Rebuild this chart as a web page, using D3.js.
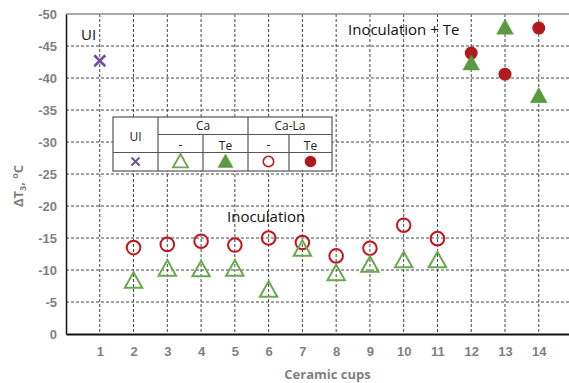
<!DOCTYPE html>
<html>
<head>
<meta charset="utf-8">
<script src="https://cdn.jsdelivr.net/npm/d3@7"></script>
<style>
  html, body { margin: 0; padding: 0; background: #fff; }
  svg { display: block; font-family: "Open Sans", "Liberation Sans", sans-serif; }
</style>
</head>
<body>
<svg id="chart" width="569" height="383"></svg>
<script>
// Cooling-curve undercooling ΔT3 per ceramic cup
const cups = [1, 2, 3, 4, 5, 6, 7, 8, 9, 10, 11, 12, 13, 14];
const yTicks = [0, -5, -10, -15, -20, -25, -30, -35, -40, -45, -50];

// Uninoculated iron
const uiCups = [1];
const uiValues = [-42.7];

// Ca inoculant, without / with Te
const caCups = [2, 3, 4, 5, 6, 7, 8, 9, 10, 11];
const caValues = [-8.2, -10.1, -10.0, -10.1, -6.8, -13.2, -9.4, -10.7, -11.4, -11.4];
const caTeCups = [12, 13, 14];
const caTeValues = [-42.2, -47.8, -37.1];

// Ca-La inoculant, without / with Te
const caLaCups = [2, 3, 4, 5, 6, 7, 8, 9, 10, 11];
const caLaValues = [-13.5, -14.0, -14.5, -13.9, -15.0, -14.3, -12.2, -13.4, -17.0, -14.9];
const caLaTeCups = [12, 13, 14];
const caLaTeValues = [-43.9, -40.6, -47.8];

const C = {
  purple: "#7050a0",
  green: "#6aa84f",
  greenFill: "#5b9a3e",
  red: "#c0161c",
  redFill: "#b01a1e",
  tick: "#7f7f7f"
};

const svg = d3.select("#chart");
const plotLeft = 66, plotTop = 14, plotBottom = 334, plotRight = 569;

const x = d3.scaleLinear().domain([0, 15]).range([plotLeft, plotLeft + 15 * 33.77]);
const y = d3.scaleLinear().domain([0, -50]).range([plotBottom, plotTop]);

// grid
const grid = svg.append("g");
grid.selectAll("line.h").data(yTicks.filter(v => v !== 0 && v !== -50)).join("line")
  .attr("x1", plotLeft).attr("x2", plotRight)
  .attr("y1", d => y(d)).attr("y2", d => y(d))
  .attr("stroke", "#444").attr("stroke-width", 1).attr("stroke-dasharray", "3,2");
grid.selectAll("line.v").data(cups).join("line")
  .attr("x1", d => x(d)).attr("x2", d => x(d))
  .attr("y1", plotTop).attr("y2", plotBottom)
  .attr("stroke", "#444").attr("stroke-width", 1).attr("stroke-dasharray", "3,2");

// top frame line
svg.append("line").attr("x1", plotLeft).attr("x2", plotRight).attr("y1", y(-50)).attr("y2", y(-50))
  .attr("stroke", "#8c8c8c").attr("stroke-width", 1.5);

// y axis
const yAxis = d3.axisLeft(y).tickValues(yTicks).tickSize(0).tickPadding(9).tickFormat(d => d);
const yg = svg.append("g").attr("transform", `translate(${plotLeft},0)`).call(yAxis);
yg.select(".domain").attr("stroke", "#111").attr("stroke-width", 1.5);
yg.selectAll(".tick text").attr("fill", C.tick).attr("font-size", 13).attr("font-weight", "bold");

// x axis
const xAxis = d3.axisBottom(x).tickValues(cups).tickSize(0).tickPadding(13).tickFormat(d => d);
const xg = svg.append("g").attr("transform", `translate(0,${plotBottom})`).call(xAxis);
xg.select(".domain").attr("stroke", "#111").attr("stroke-width", 2);
xg.selectAll(".tick text").attr("fill", C.tick).attr("font-size", 13).attr("font-weight", "bold");

// axis titles
svg.append("text").attr("x", (plotLeft + plotRight) / 2 + 10).attr("y", 379)
  .attr("text-anchor", "middle").attr("fill", C.tick).attr("font-size", 13).attr("font-weight", "bold")
  .text("Ceramic cups");

const yt = svg.append("text").attr("transform", "translate(23,186) rotate(-90)")
  .attr("text-anchor", "middle").attr("fill", C.tick).attr("font-size", 13).attr("font-weight", "bold");
yt.append("tspan").text("ΔT");
yt.append("tspan").attr("font-size", 9).attr("dy", 3).text("3");
yt.append("tspan").attr("dy", -3).text(", ");
yt.append("tspan").attr("font-size", 9).attr("dy", -5).text("o");
yt.append("tspan").attr("dy", 5).text("C");

// marker drawing helpers
const triPath = s => `M0,${-s * 0.62}L${s * 0.58},${s * 0.42}L${-s * 0.58},${s * 0.42}Z`;
function drawX(g, cx, cy, s, color, w) {
  g.append("path").attr("transform", `translate(${cx},${cy})`)
    .attr("d", `M${-s},${-s}L${s},${s}M${-s},${s}L${s},${-s}`)
    .attr("stroke", color).attr("stroke-width", w).attr("fill", "none");
}
function drawTri(g, cx, cy, s, color, filled, w) {
  g.append("path").attr("transform", `translate(${cx},${cy})`)
    .attr("d", triPath(s))
    .attr("fill", filled ? color : "none").attr("stroke", color).attr("stroke-width", filled ? 0.5 : w)
    .attr("stroke-linejoin", "miter");
}
function drawCircle(g, cx, cy, r, color, filled, w) {
  g.append("circle").attr("cx", cx).attr("cy", cy).attr("r", r)
    .attr("fill", filled ? color : "none").attr("stroke", color).attr("stroke-width", filled ? 0 : w);
}

const marks = svg.append("g");
uiCups.forEach((c, i) => drawX(marks, x(c), y(uiValues[i]), 5.5, C.purple, 2.6));
caLaCups.forEach((c, i) => drawCircle(marks, x(c), y(caLaValues[i]), 6.8, C.red, false, 2));
caCups.forEach((c, i) => drawTri(marks, x(c), y(caValues[i]), 15, C.green, false, 2));
caLaTeCups.forEach((c, i) => drawCircle(marks, x(c), y(caLaTeValues[i]), 6.5, C.redFill, true));
caTeCups.forEach((c, i) => drawTri(marks, x(c), y(caTeValues[i]), 14.5, C.greenFill, true));

// annotations
const ann = svg.append("g").attr("fill", "#111").attr("font-size", 15);
ann.append("text").attr("x", 81).attr("y", 40).text("UI");
ann.append("text").attr("x", 348).attr("y", 35).text("Inoculation + Te");
ann.append("text").attr("x", 227).attr("y", 222).text("Inoculation");

// legend table
const lg = svg.append("g");
const L = { x0: 113, x1: 158, x2: 203, x3: 248, x4: 289, x5: 332, y0: 117, y1: 134.5, y2: 152.5, y3: 171 };
lg.append("rect").attr("x", L.x0).attr("y", L.y0).attr("width", L.x5 - L.x0).attr("height", L.y3 - L.y0)
  .attr("fill", "#fff").attr("stroke", "#555").attr("stroke-width", 1.2);
const seg = (x1, y1, x2, y2) => lg.append("line").attr("x1", x1).attr("y1", y1).attr("x2", x2).attr("y2", y2)
  .attr("stroke", "#555").attr("stroke-width", 1.2);
seg(L.x1, L.y0, L.x1, L.y3);
seg(L.x3, L.y0, L.x3, L.y3);
seg(L.x2, L.y1, L.x2, L.y3);
seg(L.x4, L.y1, L.x4, L.y3);
seg(L.x1, L.y1, L.x5, L.y1);
seg(L.x0, L.y2, L.x5, L.y2);

const lt = lg.append("g").attr("fill", "#222").attr("font-size", 12).attr("text-anchor", "middle");
lt.append("text").attr("x", (L.x0 + L.x1) / 2).attr("y", 141).text("UI");
lt.append("text").attr("x", (L.x1 + L.x3) / 2).attr("y", 130).text("Ca");
lt.append("text").attr("x", (L.x3 + L.x5) / 2).attr("y", 130).text("Ca-La");
lt.append("text").attr("x", (L.x1 + L.x2) / 2).attr("y", 149).text("-");
lt.append("text").attr("x", (L.x2 + L.x3) / 2).attr("y", 150).text("Te");
lt.append("text").attr("x", (L.x3 + L.x4) / 2).attr("y", 149).text("-");
lt.append("text").attr("x", (L.x4 + L.x5) / 2).attr("y", 150).text("Te");

const ly = 161.5;
drawX(lg, (L.x0 + L.x1) / 2, ly, 4, C.purple, 2);
drawTri(lg, (L.x1 + L.x2) / 2, ly + 0.5, 13, C.green, false, 1.8);
drawTri(lg, (L.x2 + L.x3) / 2, ly + 0.5, 13, C.greenFill, true);
drawCircle(lg, (L.x3 + L.x4) / 2, ly, 5.2, C.red, false, 1.6);
drawCircle(lg, (L.x4 + L.x5) / 2, ly, 5.8, C.redFill, true);
</script>
</body>
</html>
